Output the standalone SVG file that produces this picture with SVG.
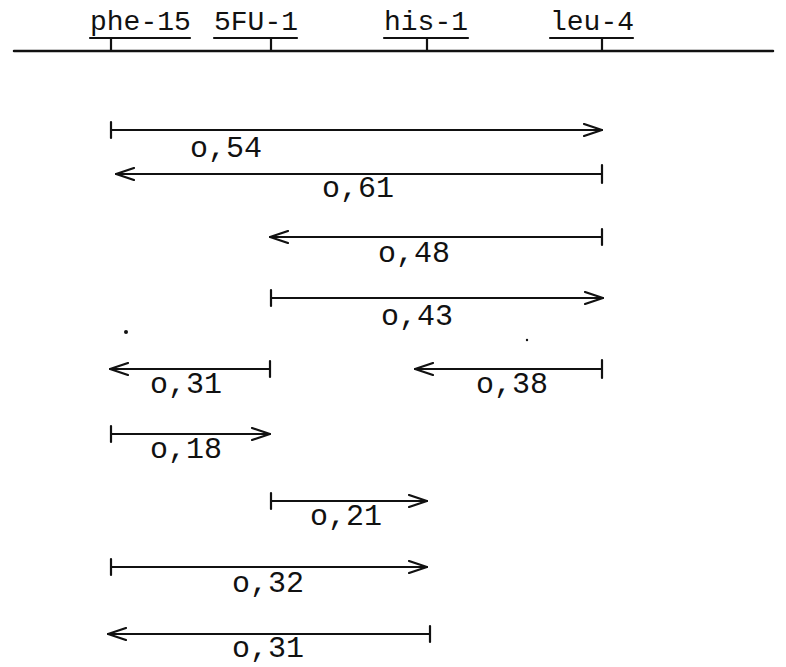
<svg xmlns="http://www.w3.org/2000/svg" width="786" height="667" viewBox="0 0 786 667">
<style>
text{font-family:"Liberation Mono","DejaVu Sans Mono",monospace;fill:#111}
.h{font-size:28px}
.l{font-size:30px}
line,path{stroke:#111;fill:none;stroke-linecap:round}
.ax{stroke-width:2.5}
.ar{stroke-width:2.2}
.tk{stroke-width:2.2}
</style>
<defs>
<marker id="ah" viewBox="0 0 20 14" refX="19" refY="7" markerWidth="20" markerHeight="14" markerUnits="userSpaceOnUse" orient="auto-start-reverse">
<path d="M1,1 L19,7 L1,13" stroke-width="2.2"/>
</marker>
</defs>
<rect width="786" height="667" fill="#fff"/>
<g id="header">
<g id="phe-15"><text class="h" x="90" y="30">phe-15</text><line class="tk" x1="90" y1="38" x2="190" y2="38"/><line class="tk" x1="111" y1="38" x2="111" y2="50"/></g>
<g id="5FU-1"><text class="h" x="214" y="30">5FU-1</text><line class="tk" x1="214" y1="38" x2="297" y2="38"/><line class="tk" x1="271" y1="38" x2="271" y2="50"/></g>
<g id="his-1"><text class="h" x="384" y="30">his-1</text><line class="tk" x1="384" y1="38" x2="468" y2="38"/><line class="tk" x1="427" y1="38" x2="427" y2="50"/></g>
<g id="leu-4"><text class="h" x="550" y="30">leu-4</text><line class="tk" x1="550" y1="38" x2="633" y2="38"/><line class="tk" x1="602" y1="38" x2="602" y2="50"/></g>
<line class="ax" x1="14" y1="51" x2="773" y2="51"/>
</g>
<g id="connectors">
<g id="r1"><line class="ar" x1="111" y1="130" x2="602" y2="130" marker-end="url(#ah)"/><line class="tk" x1="111" y1="122" x2="111" y2="138"/><text class="l" x="190" y="157">o,54</text></g>
<g id="r2"><line class="ar" x1="602" y1="174" x2="116" y2="174" marker-end="url(#ah)"/><line class="tk" x1="602" y1="165" x2="602" y2="183"/><text class="l" x="322" y="197">o,61</text></g>
<g id="r3"><line class="ar" x1="602" y1="237" x2="270" y2="237" marker-end="url(#ah)"/><line class="tk" x1="602" y1="229" x2="602" y2="245"/><text class="l" x="378" y="262">o,48</text></g>
<g id="r4"><line class="ar" x1="271" y1="298" x2="603" y2="298" marker-end="url(#ah)"/><line class="tk" x1="271" y1="290" x2="271" y2="306"/><text class="l" x="381" y="325">o,43</text></g>
<g id="r5a"><line class="ar" x1="270" y1="369" x2="110" y2="369" marker-end="url(#ah)"/><line class="tk" x1="270" y1="361" x2="270" y2="377"/><text class="l" x="150" y="393">o,31</text></g>
<g id="r5b"><line class="ar" x1="602" y1="369" x2="415" y2="369" marker-end="url(#ah)"/><line class="tk" x1="602" y1="360" x2="602" y2="378"/><text class="l" x="476" y="393">o,38</text></g>
<g id="r6"><line class="ar" x1="111" y1="434" x2="270" y2="434" marker-end="url(#ah)"/><line class="tk" x1="111" y1="426" x2="111" y2="442"/><text class="l" x="150" y="458">o,18</text></g>
<g id="r7"><line class="ar" x1="271" y1="501" x2="427" y2="501" marker-end="url(#ah)"/><line class="tk" x1="271" y1="493" x2="271" y2="509"/><text class="l" x="310" y="525">o,21</text></g>
<g id="r8"><line class="ar" x1="111" y1="567" x2="427" y2="567" marker-end="url(#ah)"/><line class="tk" x1="111" y1="559" x2="111" y2="575"/><text class="l" x="232" y="592">o,32</text></g>
<g id="r9"><line class="ar" x1="430" y1="634" x2="108" y2="634" marker-end="url(#ah)"/><line class="tk" x1="430" y1="626" x2="430" y2="642"/><text class="l" x="232" y="657">o,31</text></g>
</g>
<circle cx="126" cy="332" r="2" fill="#111"/>
<circle cx="527" cy="340" r="1.2" fill="#111"/>
</svg>
